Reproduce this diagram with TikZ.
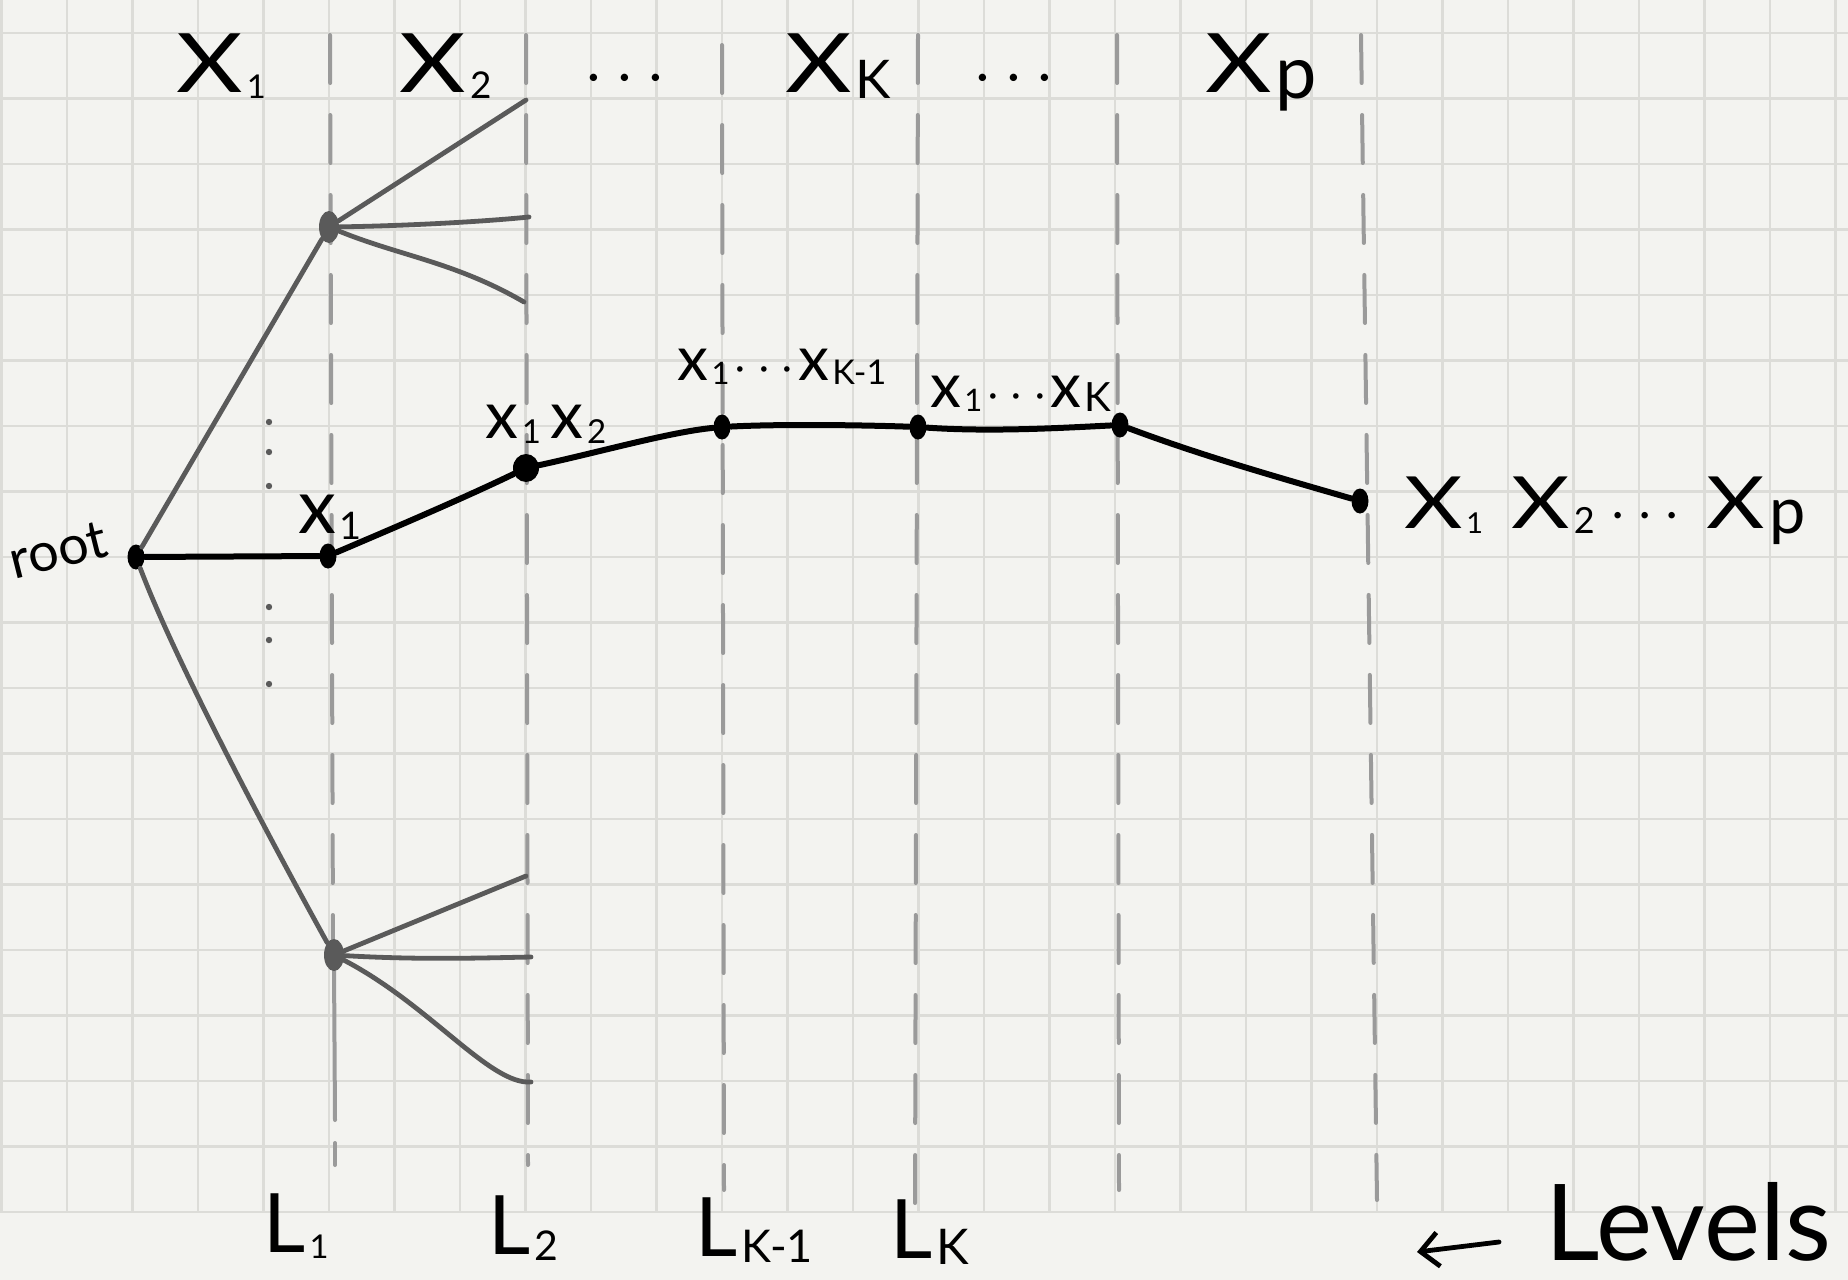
\documentclass[tikz,border=0pt]{standalone}
\usepackage{fontspec}
\setmainfont{Lato}
\usepackage{graphicx}
\usetikzlibrary{shapes.geometric,arrows.meta}
\definecolor{paper}{HTML}{F3F3F0}
\definecolor{gridc}{HTML}{DCDCD8}
\definecolor{guide}{HTML}{9A9A9A}
\definecolor{branch}{HTML}{5A5A5A}
\newcommand{\lowsub}[2][0.55]{\hspace{0.05em}\raisebox{-0.08em}{\scalebox{#1}{#2}}}
\newcommand{\wideX}{\scalebox{1.25}[1]{X}}
\newcommand{\sdots}{\scalebox{0.6}{·}\hspace{0.22em}\scalebox{0.6}{·}\hspace{0.22em}\scalebox{0.6}{·}}
\begin{document}
\begin{tikzpicture}[x=0.5pt,y=-0.5pt,
  gridline/.style={draw=gridc,line width=1.1pt},
  guideline/.style={draw=guide,line width=2pt,line cap=round,dash pattern=on 24pt off 16pt},
  guidesolid/.style={draw=guide,line width=2pt,line cap=round},
  mainedge/.style={draw=black,line width=3pt,line cap=round},
  greyedge/.style={draw=branch,line width=2.4pt,line cap=round},
  mainnode/.style={ellipse,fill=black,inner sep=0pt,minimum width=8.5pt,minimum height=12.5pt},
  greynode/.style={ellipse,fill=branch,inner sep=0pt,minimum width=10pt,minimum height=16pt},
  toplbl/.style={font=\fontsize{41}{41}\selectfont,inner sep=0pt,anchor=base},
  botlbl/.style={font=\fontsize{41}{41}\selectfont,inner sep=0pt,anchor=base},
  lowlbl/.style={inner sep=0pt,anchor=base},
  arrowst/.style={draw=black,line width=2.4pt,line cap=round,-{Straight Barb[length=9pt,width=17pt,line width=2.4pt]}}
]
\useasboundingbox (0,0) rectangle (1848,1280);
% paper and grid
\fill[paper] (0,0) rectangle (1848,1280);
\foreach \i in {0,...,28} \draw[gridline] ({1.5+65.5*\i},0) -- ({1.5+65.5*\i},1212);
\foreach \j in {0,...,18} \draw[gridline] (0,{33+65.5*\j}) -- (1848,{33+65.5*\j});
% level guide lines
\draw[guideline] (330,35) -- (333,945);
\draw[guidesolid] (334,965) -- (335,1120);
\draw[guidesolid] (335,1143) -- (335,1165);
\draw[guideline] (526,35) -- (528,1165);
\draw[guideline] (722,45) -- (724,1190);
\draw[guideline] (918,35) -- (915,1212);
\draw[guideline] (1117,35) -- (1119,1190);
\draw[guideline] (1361,35) -- (1377,1200);
% vertical ellipsis dots
\foreach \yy in {422,452,486,607,640,684} \fill[branch] (269,\yy) circle (3.2);
% nodes
\node[mainnode] (root) at (136,557) {};
\node[mainnode] (n1) at (328,556) {};
\node[greynode] (up) at (329,227) {};
\node[greynode] (low) at (334,955) {};
\node[mainnode,minimum width=13pt,minimum height=14pt] (n2) at (526,468) {};
\node[mainnode] (nk1) at (722,427) {};
\node[mainnode] (nk) at (918,427) {};
\node[mainnode] (nk2) at (1120,425) {};
\node[mainnode] (np) at (1360,501) {};
% free ends of the fans
\coordinate (u1) at (526,100);
\coordinate (u2) at (529,217);
\coordinate (u3) at (524,302);
\coordinate (d1) at (526,876);
\coordinate (d2) at (531,957);
\coordinate (d3) at (531,1082);
% grey branches
\draw[greyedge] (root) -- (up);
\draw[greyedge] (root) .. controls (175,660) and (265,830) .. (low);
\draw[greyedge] (up) -- (u1);
\draw[greyedge] (up) .. controls (400,226) and (480,222) .. (u2);
\draw[greyedge] (up) .. controls (400,256) and (455,262) .. (u3);
\draw[greyedge] (low) -- (d1);
\draw[greyedge] (low) .. controls (420,960) and (480,958) .. (d2);
\draw[greyedge] (low) .. controls (430,1005) and (490,1085) .. (d3);
% main path
\draw[mainedge] (root) -- (n1);
\draw[mainedge] (n1) .. controls (370,538) and (460,500) .. (n2);
\draw[mainedge] (n2) .. controls (600,452) and (670,432) .. (nk1);
\draw[mainedge] (nk1) .. controls (780,424) and (860,425) .. (nk);
\draw[mainedge] (nk) .. controls (990,432) and (1060,428) .. (nk2);
\draw[mainedge] (nk2) .. controls (1200,455) and (1270,475) .. (np);
% top labels
\node[toplbl] (tX1) at (221,92) {\wideX\lowsub[0.4]{1}};
\node[toplbl] (tX2) at (446,92) {\wideX\lowsub[0.45]{2}};
\node[toplbl] (tD1) at (625,92) {\sdots};
\node[toplbl] (tXK) at (838,92) {\wideX\lowsub[0.65]{K}};
\node[toplbl] (tD2) at (1014,92) {\sdots};
\node[toplbl] (tXp) at (1261,92) {\wideX\lowsub[0.9]{p}};
% node labels
\node[lowlbl,font=\fontsize{27}{27}\selectfont,rotate=14,anchor=center] (troot) at (58,550) {root};
\node[lowlbl,font=\fontsize{38}{38}\selectfont] (tx1) at (330,533) {x\lowsub[0.5]{1}};
\node[lowlbl,font=\fontsize{33}{33}\selectfont] (tx12) at (546,438) {x\lowsub[0.5]{1}\hspace{0.15em}x\lowsub[0.5]{2}};
\node[lowlbl,font=\fontsize{31}{31}\selectfont] (txk1) at (782,380) {x\lowsub[0.5]{1}\hspace{0.1em}\sdots\hspace{0.1em}x\lowsub[0.55]{K-1}};
\node[lowlbl,font=\fontsize{31}{31}\selectfont] (txk) at (1021,407) {x\lowsub[0.5]{1}\hspace{0.1em}\sdots\hspace{0.1em}x\lowsub[0.65]{K}};
\node[lowlbl,font=\fontsize{36}{36}\selectfont,anchor=base west] (txp) at (1404,528) {\wideX\lowsub[0.4]{1}\hspace{0.4em}\wideX\lowsub[0.5]{2}\hspace{0.25em}\sdots\hspace{0.4em}\wideX\lowsub[0.9]{p}};
% bottom labels
\node[botlbl] (tL1) at (296,1252) {L\lowsub[0.4]{1}};
\node[botlbl] (tL2) at (523,1254) {L\lowsub[0.5]{2}};
\node[botlbl] (tLK1) at (754,1256) {L\lowsub[0.55]{K-1}};
\node[botlbl] (tLK) at (930,1258) {L\lowsub[0.6]{K}};
\node[lowlbl,font=\fontsize{53}{53}\selectfont,anchor=base west] (levels) at (1545,1260) {Levels};
\coordinate (arrtail) at (1499,1242);
\coordinate (arrhead) at (1417,1252);
\draw[arrowst] (arrtail) -- (arrhead);
\end{tikzpicture}
\end{document}
